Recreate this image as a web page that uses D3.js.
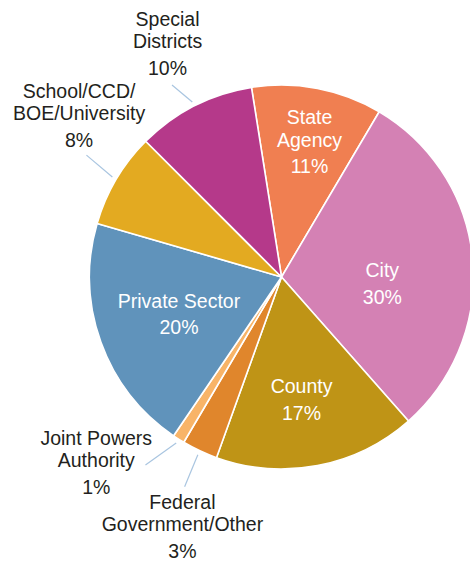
<!DOCTYPE html>
<html>
<head>
<meta charset="utf-8">
<script src="https://cdn.jsdelivr.net/npm/d3@7"></script>
<style>
  html, body { margin: 0; padding: 0; background: #ffffff; }
  svg { display: block; }
  text { font-family: "Liberation Sans", Arial, Helvetica, sans-serif; }
</style>
</head>
<body>
<svg id="chart" width="470" height="563"></svg>
<script>
// Share of agencies by type (percent), clockwise from the top
const categories = [
  "State Agency", "City", "County", "Federal Government/Other",
  "Joint Powers Authority", "Private Sector", "School/CCD/BOE/University",
  "Special Districts"
];
const shares = [11, 30, 17, 3, 1, 20, 8, 10];
const labelLines = [
  ["State", "Agency"], ["City"], ["County"], ["Federal", "Government/Other"],
  ["Joint Powers", "Authority"], ["Private Sector"], ["School/CCD/", "BOE/University"],
  ["Special", "Districts"]
];
const colors = [
  "#F07F51", "#D481B4", "#BF9416", "#E0862C",
  "#F8B468", "#6093BB", "#E3AA21", "#B5398A"
];

// Label placement: inside labels sit on the slice; outside labels get a leader line
const placement = [
  { inside: true,  r: 138, shift: 0.9 },
  { inside: true,  r: 101, shift: 9 },
  { inside: true,  r: 124, shift: 1.5 },
  { inside: false, r: 268, shift: -3.5, leadR: 231, leadShift: -0.4 },
  { inside: false, r: 262, shift: 12.6, leadR: 232, leadShift: 3.5 },
  { inside: true,  r: 109, shift: 0 },
  { inside: false, r: 259, shift: 8, leadR: 230, leadShift: 1.4 },
  { inside: false, r: 260, shift: 1, leadR: 221, leadShift: -2.7 }
];

const cx = 281.5, cy = 277, R = 192;
const deg = Math.PI / 180;
const start = -9 * deg;

const svg = d3.select("#chart");
const g = svg.append("g").attr("transform", `translate(${cx},${cy})`);

const pie = d3.pie().sort(null).value(d => d)
  .startAngle(start).endAngle(start + 2 * Math.PI);
const arcs = pie(shares);
const arc = d3.arc().innerRadius(0).outerRadius(R);

g.selectAll("path.slice")
  .data(arcs)
  .join("path")
  .attr("class", "slice")
  .attr("d", arc)
  .attr("fill", (d, i) => colors[i])
  .attr("stroke", "#ffffff")
  .attr("stroke-width", 1.6)
  .attr("stroke-linejoin", "round")
  .append("title").text((d, i) => `${categories[i]}: ${shares[i]}%`);

const polar = (r, a) => [r * Math.sin(a), -r * Math.cos(a)];
const midAngle = d => (d.startAngle + d.endAngle) / 2;

// Leader lines for the outside labels
g.selectAll("line.leader")
  .data(arcs.filter((d, i) => !placement[i].inside))
  .join("line")
  .attr("class", "leader")
  .each(function (d) {
    const p = placement[d.index];
    const a = midAngle(d);
    const [x1, y1] = polar(R + 4.5, a);
    const [x2, y2] = polar(p.leadR, a + p.leadShift * deg);
    d3.select(this).attr("x1", x1).attr("y1", y1).attr("x2", x2).attr("y2", y2);
  })
  .attr("stroke", "#A9C5E0")
  .attr("stroke-width", 1.2);

// Labels: name lines followed by the percentage
const fontSize = 19.5, lineGap = 22.5, pctGap = 26.5, capH = 14;
const labels = g.selectAll("text.label")
  .data(arcs)
  .join("text")
  .attr("class", "label")
  .attr("text-anchor", "middle")
  .attr("font-size", fontSize)
  .attr("fill", (d, i) => placement[i].inside ? "#ffffff" : "#231f20");

labels.each(function (d, i) {
  const p = placement[i];
  const [x, y] = polar(p.r, midAngle(d) + p.shift * deg);
  const lines = labelLines[i];
  const lastBase = (lines.length - 1) * lineGap + pctGap;
  const top = y - (lastBase + capH) / 2;      // cap top of the first line
  const b0 = top + capH;                       // first baseline
  const t = d3.select(this);
  lines.forEach((s, k) => {
    t.append("tspan").attr("x", x).attr("y", b0 + k * lineGap).text(s);
  });
  t.append("tspan").attr("x", x).attr("y", b0 + lastBase).text(shares[i] + "%");
});
</script>
</body>
</html>
